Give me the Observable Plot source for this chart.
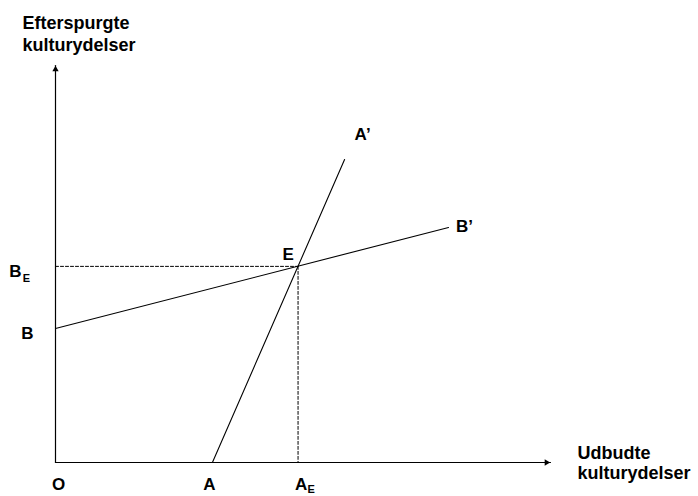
<!DOCTYPE html>
<html>
<head>
<meta charset="utf-8">
<script src="https://cdn.jsdelivr.net/npm/d3@7"></script>
<script src="https://cdn.jsdelivr.net/npm/@observablehq/plot@0.6"></script>
<style>
  html, body { margin: 0; padding: 0; background: #fff; }
  #chart svg { display: block; }
</style>
</head>
<body>
<div id="chart"></div>
<script>
// Axes (data units 0..100)
const axisX = [{x: 0, y: 0}, {x: 100, y: 0}];
const axisY = [{x: 0, y: 0}, {x: 0, y: 100}];
// Supply line A–A'
const lineA = [{x: 31.7, y: 0}, {x: 58.4, y: 76.3}];
// Demand line B–B'
const lineB = [{x: 0, y: 33.75}, {x: 79.4, y: 59.2}];
// Equilibrium E
const pointE = {x: 49.0, y: 49.4};
const dashH = [{x: 0, y: pointE.y}, pointE];
const dashV = [pointE, {x: pointE.x, y: 0}];

const yTitle = "Efterspurgte\nkulturydelser";
const xTitle = "Udbudte\nkulturydelser";

// Point labels: anchored at data points
const labels = [
  {text: "O",  x: 0,            y: 0,            dx: 3,   dy: 22},
  {text: "A",  x: lineA[0].x,   y: 0,            dx: -3,  dy: 22.5},
  {text: "A",  x: pointE.x,     y: 0,            dx: 3,   dy: 22.5},
  {text: "B",  x: 0,            y: lineB[0].y,   dx: -28, dy: 5.5},
  {text: "B",  x: 0,            y: pointE.y,     dx: -40, dy: 5.5},
  {text: "E",  x: pointE.x,     y: pointE.y,     dx: -10, dy: -12},
  {text: "A\u2019", x: lineA[1].x, y: lineA[1].y, dx: 18, dy: -25},
  {text: "B\u2019", x: lineB[1].x, y: lineB[1].y, dx: 16, dy: -1}
];
const subs = [
  {text: "E", x: pointE.x, y: 0,        dx: 13,  dy: 27},
  {text: "E", x: 0,        y: pointE.y, dx: -29, dy: 12}
];

const font = "'Liberation Sans', Arial, Helvetica, sans-serif";

const chart = Plot.plot({
  width: 698,
  height: 496,
  marginLeft: 55,
  marginRight: 148,
  marginTop: 65,
  marginBottom: 34,
  style: {fontFamily: font, background: "#fff", color: "#000"},
  x: {domain: [0, 100], axis: null},
  y: {domain: [0, 100], axis: null},
  marks: [
    Plot.line(axisX, {x: "x", y: "y", stroke: "#000", strokeWidth: 1.2}),
    Plot.line(axisY, {x: "x", y: "y", stroke: "#000", strokeWidth: 1.2}),
    Plot.dot([axisY[1]], {x: "x", y: "y", symbol: "triangle2", r: 3, fill: "#000", stroke: null, dy: 4}),
    Plot.dot([axisX[1]], {x: "x", y: "y", symbol: "triangle2", r: 3, fill: "#000", stroke: null, rotate: 90, dx: -4}),
    Plot.line(dashH, {x: "x", y: "y", stroke: "#000", strokeWidth: 1, strokeDasharray: "3,2"}),
    Plot.line(dashV, {x: "x", y: "y", stroke: "#000", strokeWidth: 1, strokeDasharray: "3,2"}),
    Plot.line(lineA, {x: "x", y: "y", stroke: "#000", strokeWidth: 1.1}),
    Plot.line(lineB, {x: "x", y: "y", stroke: "#000", strokeWidth: 1.1}),
    ...labels.map(d => Plot.text([d], {x: "x", y: "y", text: "text", dx: d.dx, dy: d.dy, fontSize: 17, fontWeight: "bold", fill: "#000"})),
    ...subs.map(d => Plot.text([d], {x: "x", y: "y", text: "text", dx: d.dx, dy: d.dy, fontSize: 11, fontWeight: "bold", fill: "#000"})),
    Plot.text([axisY[1]], {x: "x", y: "y", text: () => yTitle, dx: -33, dy: -32.5, textAnchor: "start", lineHeight: 1.19, fontSize: 18, fontWeight: "bold", fill: "#000"}),
    Plot.text([axisX[1]], {x: "x", y: "y", text: () => xTitle, dx: 27, dy: 0, textAnchor: "start", lineHeight: 1.13, fontSize: 18, fontWeight: "bold", fill: "#000"})
  ]
});
document.getElementById("chart").append(chart);
</script>
</body>
</html>
